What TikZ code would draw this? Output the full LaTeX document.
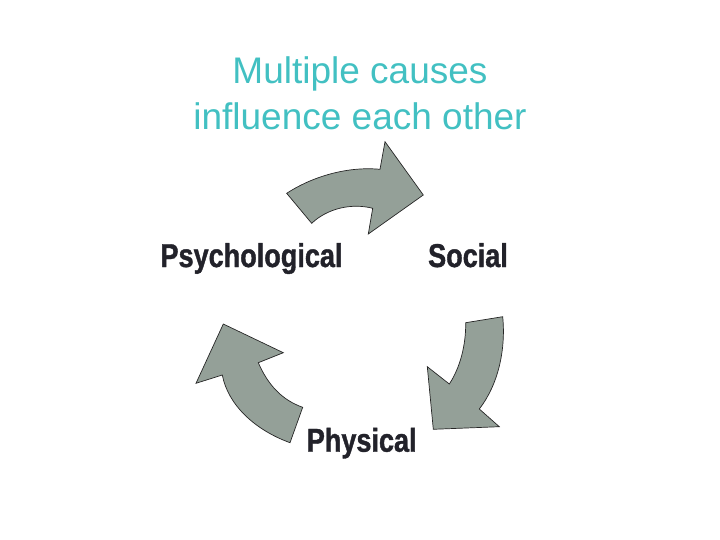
\documentclass[tikz,border=0pt]{standalone}
\usepackage{fontspec}
\setmainfont{Liberation Sans}
\newfontfamily\labelfont[FakeStretch=0.82,BoldFeatures={FakeBold=1.2}]{Liberation Sans}
\definecolor{titleteal}{RGB}{66,192,194}
\definecolor{arrowgray}{RGB}{148,160,152}
\definecolor{labeldark}{RGB}{34,34,42}

\begin{document}
\begin{tikzpicture}[x=1pt,y=-1pt,
  cause/.style={anchor=base, inner sep=0pt, text=labeldark,
    font=\labelfont\bfseries\fontsize{33}{36}\selectfont},
  cyclearrow/.style={fill=arrowgray, draw=black!85, line width=0.7pt, line join=miter}]
\useasboundingbox (0,0) rectangle (720,540);

\node[anchor=base, inner sep=0pt, align=center, text=titleteal,
  font=\fontsize{37}{46.7}\selectfont] (title) at (360,130)
  {Multiple causes\\influence each other};

\node[cause] (psy) at (251.5,267) {Psychological};
\node[cause] (soc) at (468,267) {Social};
\node[cause] (phy) at (361.7,451.7) {Physical};

% psychological -> social
\draw[cyclearrow] (286.7,193.3) .. controls (310,178) and (345,166) .. (380,169.3)
  -- (385,141.7) -- (423.3,195) -- (368.3,234) -- (372.7,208.3)
  .. controls (352,203) and (328,208) .. (311.7,223.3) -- cycle;

% social -> physical
\draw[cyclearrow] (465.7,322.7) -- (502.7,316.7)
  .. controls (506,350) and (498,385) .. (479.3,409)
  -- (499.3,426.7) -- (433.3,429.3) -- (427.3,366.7) -- (449.3,384)
  .. controls (460,368) and (466,345) .. (465.7,322.7) -- cycle;

% physical -> psychological
\draw[cyclearrow] (223.3,324) -- (283.3,352.7) -- (258.3,362.7)
  .. controls (268,385) and (282,400) .. (302.7,407.3) -- (290,442.7)
  .. controls (255,430) and (228,405) .. (222.3,375) -- (196,383.3) -- cycle;

\end{tikzpicture}
\end{document}
